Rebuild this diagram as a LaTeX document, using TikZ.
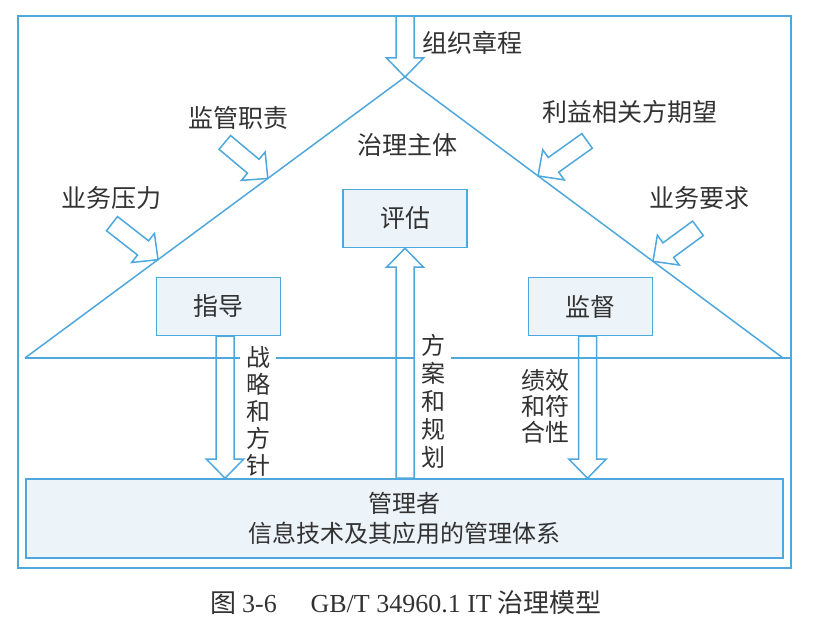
\documentclass[tikz,border=0pt]{standalone}
\usepackage{fontspec}
\setmainfont{Noto Sans CJK SC}
\newfontfamily\latinrm{Liberation Serif}
\usetikzlibrary{calc}
\definecolor{lineblue}{RGB}{78,168,222}
\definecolor{boxfill}{RGB}{236,243,249}
\definecolor{inkgray}{RGB}{50,50,50}
\tikzset{
  blueline/.style={draw=lineblue, line width=1.5pt},
  box/.style={blueline, fill=boxfill, minimum width=124pt, minimum height=58pt, inner sep=0pt},
  vtxt/.style={fill=white, align=center, inner xsep=6pt, inner ysep=2pt},
  blockarrow/.style={blueline, line join=miter},
}
% hollow block arrow: tail #1, tip #2
\newcommand{\hollowarrow}[2]{%
  \coordinate (hb) at ($(#2)!19pt!(#1)$);
  \draw[blockarrow] ($(#1)!9pt!90:(#2)$) -- ($(hb)!9pt!90:(#2)$) -- ($(hb)!18.5pt!90:(#2)$)
    -- (#2) -- ($(hb)!18.5pt!-90:(#2)$) -- ($(hb)!9pt!-90:(#2)$) -- ($(#1)!9pt!-90:(#2)$) -- cycle;
}
\begin{document}
\begin{tikzpicture}[x=1pt, y=-1pt, every node/.style={text=inkgray, font=\fontsize{25}{27}\selectfont}]
        \useasboundingbox (0,0) rectangle (815,628);
        \draw[blueline] (18,16) rectangle (791,568);

        \coordinate (apex) at (405,77);
        \coordinate (lc) at (25,358);
        \coordinate (rc) at (783,358);
        \coordinate (rb) at (791,358);
        \coordinate (top) at (405,16);
        \draw[blueline] (lc) -- (apex) -- (rc);
        \draw[blueline] (lc) -- (rb);

        \node[box] (pg) at (405,218.5) {评估};
        \node[box] (zd) at (218.5,306.5) {指导};
        \node[box] (jd) at (590.5,306.5) {监督};
        \node[box, minimum width=757pt, minimum height=79pt, align=center,
              font=\fontsize{24}{30}\selectfont] (gl) at (404.5,518.5) {管理者\\信息技术及其应用的管理体系};

        \node (zlzt) at (407,145) {治理主体};
        \node (zzzc) at (472,43) {组织章程};
        \node (jgzz) at (238,118) {监管职责};
        \node (ywyl) at (111,198) {业务压力};
        \node (lyqw) at (630,112) {利益相关方期望};
        \node (ywyq) at (699,198) {业务要求};

        \node[vtxt, font=\fontsize{24}{27}\selectfont] (zlff) at (258,411) {战\\略\\和\\方\\针};
        \node[vtxt, font=\fontsize{24}{28}\selectfont] (fagh) at (433,401) {方\\案\\和\\规\\划};
        \node[vtxt, font=\fontsize{24}{26}\selectfont] (jxfh) at (545,406) {绩效\\和符\\合性};

        \hollowarrow{top}{apex}

        \coordinate (zd-out) at ($(zd.south)+(6.5,0)$);
        \coordinate (zd-in) at (zd-out |- gl.north);
        \hollowarrow{zd-out}{zd-in}

        \coordinate (gl-out) at (pg.south |- gl.north);
        \hollowarrow{gl-out}{pg.south}

        \coordinate (jd-out) at ($(jd.south)+(-3,0)$);
        \coordinate (jd-in) at (jd-out |- gl.north);
        \hollowarrow{jd-out}{jd-in}

        \coordinate (jgzz-tip) at ($(lc)!0.639!(apex)$);
        \coordinate (jgzz-tail) at ($(jgzz-tip)+(-43,-36)$);
        \hollowarrow{jgzz-tail}{jgzz-tip}

        \coordinate (ywyl-tip) at ($(lc)!0.35!(apex)$);
        \coordinate (ywyl-tail) at ($(ywyl-tip)+(-46,-36)$);
        \hollowarrow{ywyl-tail}{ywyl-tip}

        \coordinate (lyqw-tip) at ($(rc)!0.648!(apex)$);
        \coordinate (lyqw-tail) at ($(lyqw-tip)+(49,-35)$);
        \hollowarrow{lyqw-tail}{lyqw-tip}

        \coordinate (ywyq-tip) at ($(rc)!0.344!(apex)$);
        \coordinate (ywyq-tail) at ($(ywyq-tip)+(45,-33)$);
        \hollowarrow{ywyq-tail}{ywyq-tip}

        \node[font=\fontsize{26}{30}\selectfont] (cap) at (406,603)
            {图 {\latinrm 3-6}\hspace{1.3em}{\latinrm GB/T 34960.1 IT} 治理模型};
\end{tikzpicture}
\end{document}
